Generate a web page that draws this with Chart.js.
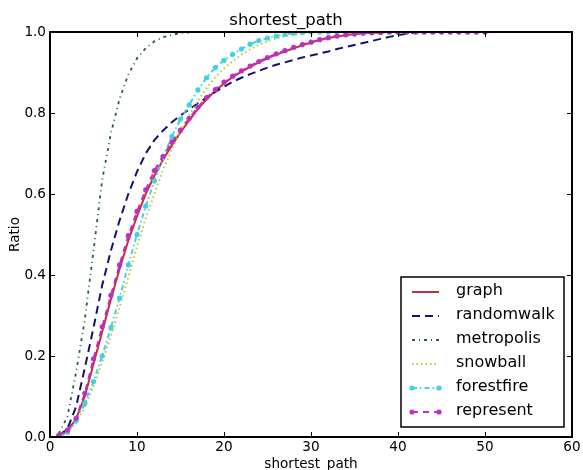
<!DOCTYPE html>
<html>
<head>
<meta charset="utf-8">
<script src="https://cdn.jsdelivr.net/npm/chart.js@4.4.0/dist/chart.umd.min.js"></script>
<style>
  html, body { margin: 0; padding: 0; background: #fff; }
</style>
</head>
<body>
<canvas id="pathChart" width="583" height="470"></canvas>
<script>
// shortest path length (x) and cumulative ratio per sampling method
const pathLength = [1, 2, 3, 4, 5, 6, 7, 8, 9, 10, 11, 12, 13, 14, 15, 16, 17, 18, 19, 20,
    21, 22, 23, 24, 25, 26, 27, 28, 29, 30, 31, 32, 33, 34, 35, 36, 37, 38, 39, 40,
    41, 42, 43, 44, 45, 46, 47, 48, 49, 50];

const graph = [0.002, 0.015, 0.045, 0.1, 0.18, 0.26, 0.34, 0.415, 0.485, 0.545,
    0.6, 0.645, 0.685, 0.72, 0.752, 0.782, 0.81, 0.834, 0.855, 0.873,
    0.889, 0.902, 0.914, 0.925, 0.935, 0.944, 0.952, 0.96, 0.967, 0.974,
    0.98, 0.985, 0.989, 0.992, 0.995, 0.997, 0.998, 0.999, 1, 1,
    1, 1, 1, 1, 1, 1, 1, 1, 1, 1];

const randomwalk = [0.003, 0.02, 0.075, 0.17, 0.27, 0.375, 0.46, 0.535, 0.6, 0.655,
    0.7, 0.733, 0.757, 0.777, 0.794, 0.809, 0.824, 0.838, 0.852, 0.865,
    0.877, 0.887, 0.896, 0.904, 0.912, 0.919, 0.925, 0.931, 0.937, 0.942,
    0.947, 0.952, 0.958, 0.963, 0.968, 0.973, 0.978, 0.983, 0.988, 0.992,
    0.996, 0.999, 1, 1, 1, 1, 1, 1, 1, 1];

const metropolis = [0.008, 0.05, 0.16, 0.29, 0.46, 0.635, 0.75, 0.835, 0.895, 0.935,
    0.96, 0.977, 0.987, 0.993, 0.997, 0.999, 1, 1, 1, 1,
    1, 1, 1, 1, 1, 1, 1, 1, 1, 1,
    1, 1, 1, 1, 1, 1, 1, 1, 1, 1,
    1, 1, 1, 1, 1, 1, 1, 1, 1, 1];

const snowball = [0.001, 0.01, 0.035, 0.075, 0.125, 0.185, 0.25, 0.32, 0.395, 0.47,
    0.54, 0.6, 0.66, 0.71, 0.755, 0.795, 0.83, 0.862, 0.888, 0.91,
    0.928, 0.944, 0.957, 0.968, 0.977, 0.984, 0.99, 0.994, 0.997, 0.999,
    1, 1, 1, 1, 1, 1, 1, 1, 1, 1,
    1, 1, 1, 1, 1, 1, 1, 1, 1, 1];

const forestfire = [0.002, 0.012, 0.04, 0.083, 0.137, 0.2, 0.27, 0.343, 0.425, 0.5,
    0.57, 0.632, 0.69, 0.742, 0.785, 0.82, 0.857, 0.887, 0.912, 0.93,
    0.945, 0.958, 0.97, 0.979, 0.985, 0.99, 0.994, 0.997, 0.999, 1,
    1, 1, 1, 1, 1, 1, 1, 1, 1, 1,
    1, 1, 1, 1, 1, 1, 1, 1, 1, 1];

const represent = [0.004, 0.017, 0.046, 0.108, 0.193, 0.272, 0.35, 0.425, 0.497, 0.557,
    0.61, 0.658, 0.693, 0.728, 0.758, 0.787, 0.814, 0.838, 0.858, 0.876,
    0.891, 0.904, 0.916, 0.927, 0.937, 0.946, 0.954, 0.962, 0.969, 0.975,
    0.981, 0.986, 0.99, 0.993, 0.995, 0.997, 0.998, 0.999, 1, 1,
    1, 1, 1, 1, 1, 1, 1, 1, 1, 1];

const xTicks = [0, 10, 20, 30, 40, 50, 60];
const yTicks = [0, 0.2, 0.4, 0.6, 0.8, 1.0];

const toPoints = (ys) => ys.map((v, i) => ({ x: pathLength[i], y: v }));

function series(label, ys, color, dash, marker, order, width) {
    return {
        label: label,
        data: toPoints(ys),
        borderColor: color,
        backgroundColor: color,
        borderWidth: width || 2,
        borderDash: dash,
        pointRadius: marker ? 2.6 : 0,
        pointBorderWidth: 0,
        pointBackgroundColor: color,
        tension: 0,
        order: order
    };
}

Chart.defaults.font.family = '"DejaVu Sans", sans-serif';
Chart.defaults.color = '#000';

// box around the axes, inward ticks on all four sides, and the boxed legend
const frameAndLegend = {
    id: 'frameAndLegend',
    afterDatasetsDraw(chart) {
        const { ctx, chartArea: a, scales: { x, y } } = chart;
        ctx.save();
        ctx.strokeStyle = '#000';
        ctx.lineWidth = 1;
        xTicks.forEach(v => {
            const px = Math.round(x.getPixelForValue(v)) + 0.5;
            ctx.beginPath();
            ctx.moveTo(px, a.bottom); ctx.lineTo(px, a.bottom - 5);
            ctx.moveTo(px, a.top); ctx.lineTo(px, a.top + 5);
            ctx.stroke();
        });
        yTicks.forEach(v => {
            const py = Math.round(y.getPixelForValue(v)) + 0.5;
            ctx.beginPath();
            ctx.moveTo(a.left, py); ctx.lineTo(a.left + 5, py);
            ctx.moveTo(a.right, py); ctx.lineTo(a.right - 5, py);
            ctx.stroke();
        });
        ctx.lineWidth = 2;
        ctx.strokeRect(a.left, a.top, a.right - a.left, a.bottom - a.top);

        // legend
        const lx = 401, ly = 277, lw = 163, lh = 150;
        ctx.fillStyle = '#fff';
        ctx.fillRect(lx, ly, lw, lh);
        ctx.lineWidth = 1.5;
        ctx.strokeRect(lx, ly, lw, lh);
        ctx.font = '16px "DejaVu Sans"';
        ctx.textBaseline = 'middle';
        ctx.textAlign = 'left';
        chart.data.datasets.forEach((ds, i) => {
            const ry = ly + 15 + i * 24;
            ctx.strokeStyle = ds.borderColor;
            ctx.lineWidth = ds.borderWidth;
            ctx.setLineDash(ds.borderDash || []);
            ctx.beginPath();
            ctx.moveTo(412, ry); ctx.lineTo(439, ry);
            ctx.stroke();
            ctx.setLineDash([]);
            if (ds.pointRadius > 0) {
                ctx.fillStyle = ds.borderColor;
                [412, 439].forEach(px => {
                    ctx.beginPath();
                    ctx.arc(px, ry, 2.6, 0, Math.PI * 2);
                    ctx.fill();
                });
            }
            ctx.fillStyle = '#000';
            ctx.fillText(ds.label, 456, ry - 1);
        });
        ctx.restore();
    }
};

new Chart(document.getElementById('pathChart'), {
    type: 'line',
    data: {
        datasets: [
            series('graph', graph, '#c22f3a', [], false, 6),
            series('randomwalk', randomwalk, '#141466', [8, 5], false, 5),
            series('metropolis', metropolis, '#24603c', [3, 4, 1, 4], false, 4, 1.8),
            series('snowball', snowball, '#c4c43a', [1.5, 3], false, 3),
            series('forestfire', forestfire, '#3fd3e0', [5, 3, 1.5, 3], true, 2),
            series('represent', represent, '#c030c0', [6, 5], true, 1)
        ]
    },
    options: {
        responsive: false,
        animation: false,
        layout: { padding: { left: 0, right: 11, top: 0, bottom: 0 } },
        plugins: {
            legend: { display: false },
            tooltip: { enabled: false },
            title: {
                display: true,
                text: 'shortest_path',
                font: { size: 16.5, weight: 'normal' },
                color: '#000',
                padding: { top: 11.2, bottom: 1 }
            }
        },
        scales: {
            x: {
                type: 'linear',
                min: 0,
                max: 60,
                afterFit: (s) => { s.height = 33; },
                afterBuildTicks: (s) => { s.ticks = xTicks.map(v => ({ value: v })); },
                grid: { display: false, drawTicks: false },
                border: { display: false },
                ticks: { font: { size: 13.6 }, padding: 2, maxRotation: 0 },
                title: {
                    display: true,
                    text: 'shortest_path',
                    font: { size: 13.6, lineHeight: 0.8 },
                    padding: { top: 0, bottom: 0 }
                }
            },
            y: {
                min: 0,
                max: 1,
                afterFit: (s) => { s.width = 50; },
                afterBuildTicks: (s) => { s.ticks = yTicks.map(v => ({ value: v })); },
                grid: { display: false, drawTicks: false },
                border: { display: false },
                ticks: { font: { size: 13.6 }, padding: 4, callback: (v) => v.toFixed(1) },
                title: {
                    display: true,
                    text: 'Ratio',
                    font: { size: 13.6 },
                    padding: { top: 7, bottom: 0 }
                }
            }
        }
    },
    plugins: [frameAndLegend]
});
</script>
</body>
</html>
